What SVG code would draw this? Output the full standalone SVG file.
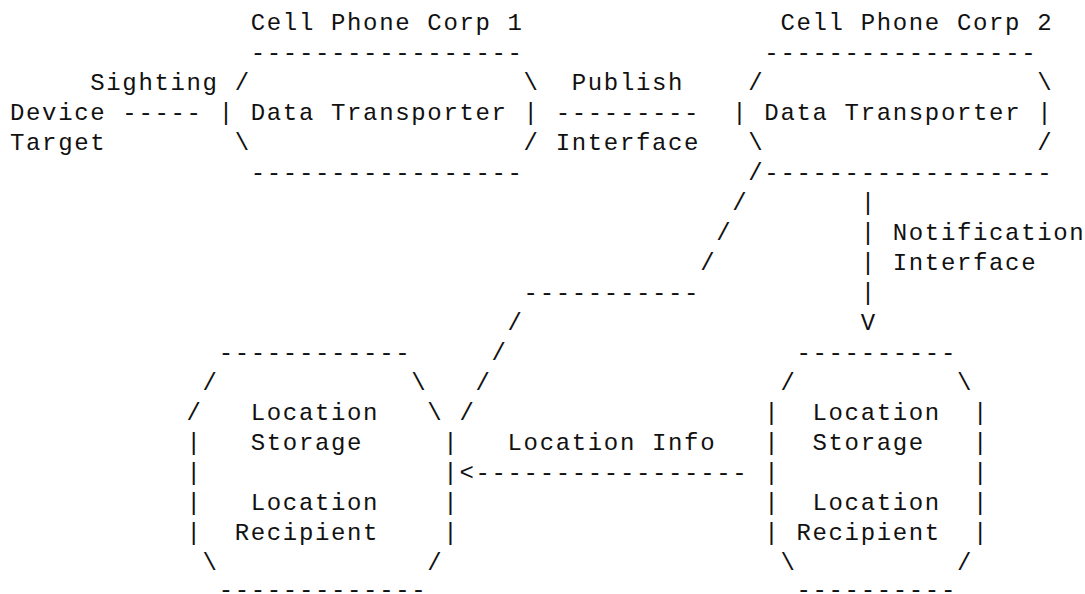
<svg xmlns="http://www.w3.org/2000/svg" width="1085" height="594" viewBox="0 0 1085 594">
<style>
text{font-family:"Courier New","Nimbus Mono PS","FreeMono","Liberation Mono",monospace;font-size:24px;letter-spacing:1.65px;fill:#111;white-space:pre}
</style>
<rect width="1085" height="594" fill="#fff"/>
<g id="sighting-device-target">
<text x="90.25" y="90">Sighting</text>
<text x="10" y="120">Device</text>
<text x="10" y="150">Target</text>
</g>
<g id="corp1-data-transporter">
<text x="250.75" y="30" xml:space="preserve">Cell Phone Corp 1</text>
<text x="250.75" y="60">-----------------</text>
<text x="234.7" y="90">/</text><text x="523.6" y="90">\</text>
<text x="218.65" y="120">|</text><text x="250.75" y="120" xml:space="preserve">Data Transporter</text><text x="523.6" y="120">|</text>
<text x="234.7" y="150">\</text><text x="523.6" y="150">/</text>
<text x="250.75" y="180">-----------------</text>
</g>
<g id="corp2-data-transporter">
<text x="780.4" y="30" xml:space="preserve">Cell Phone Corp 2</text>
<text x="764.35" y="60">-----------------</text>
<text x="748.3" y="90">/</text><text x="1037.2" y="90">\</text>
<text x="732.25" y="120">|</text><text x="764.35" y="120" xml:space="preserve">Data Transporter</text><text x="1037.2" y="120">|</text>
<text x="748.3" y="150">\</text><text x="1037.2" y="150">/</text>
<text x="764.35" y="180">------------------</text>
</g>
<g id="location-storage-recipient-1">
<text x="218.65" y="360">------------</text>
<text x="202.6" y="390">/</text><text x="411.25" y="390">\</text>
<text x="186.55" y="420">/</text><text x="250.75" y="420">Location</text><text x="427.3" y="420">\</text>
<text x="186.55" y="450">|</text><text x="250.75" y="450">Storage</text><text x="443.35" y="450">|</text>
<text x="186.55" y="480">|</text><text x="443.35" y="480">|</text>
<text x="186.55" y="510">|</text><text x="250.75" y="510">Location</text><text x="443.35" y="510">|</text>
<text x="186.55" y="540">|</text><text x="234.7" y="540">Recipient</text><text x="443.35" y="540">|</text>
<text x="202.6" y="570">\</text><text x="427.3" y="570">/</text>
<text x="218.65" y="597">-------------</text>
</g>
<g id="location-storage-recipient-2">
<text x="796.45" y="360">----------</text>
<text x="780.4" y="390">/</text><text x="956.95" y="390">\</text>
<text x="764.35" y="420">|</text><text x="812.5" y="420">Location</text><text x="973" y="420">|</text>
<text x="764.35" y="450">|</text><text x="812.5" y="450">Storage</text><text x="973" y="450">|</text>
<text x="764.35" y="480">|</text><text x="973" y="480">|</text>
<text x="764.35" y="510">|</text><text x="812.5" y="510">Location</text><text x="973" y="510">|</text>
<text x="764.35" y="540">|</text><text x="796.45" y="540">Recipient</text><text x="973" y="540">|</text>
<text x="780.4" y="570">\</text><text x="956.95" y="570">/</text>
<text x="796.45" y="597">----------</text>
</g>
<g id="connectors">
<text x="122.35" y="120">-----</text>
<text x="571.75" y="90">Publish</text>
<text x="555.7" y="120">---------</text>
<text x="555.7" y="150">Interface</text>
<text x="748.3" y="180">/</text>
<text x="732.25" y="210">/</text>
<text x="716.2" y="240">/</text>
<text x="700.15" y="270">/</text>
<text x="523.6" y="300">-----------</text>
<text x="507.55" y="330">/</text>
<text x="491.5" y="360">/</text>
<text x="475.45" y="390">/</text>
<text x="459.4" y="420">/</text>
<text x="860.65" y="210">|</text>
<text x="860.65" y="240">|</text>
<text x="860.65" y="270">|</text>
<text x="860.65" y="300">|</text>
<text x="860.65" y="330">V</text>
<text x="892.75" y="240">Notification</text>
<text x="892.75" y="270">Interface</text>
<text x="507.55" y="450" xml:space="preserve">Location Info</text>
<text x="459.4" y="480">&lt;-----------------</text>
</g>
</svg>
